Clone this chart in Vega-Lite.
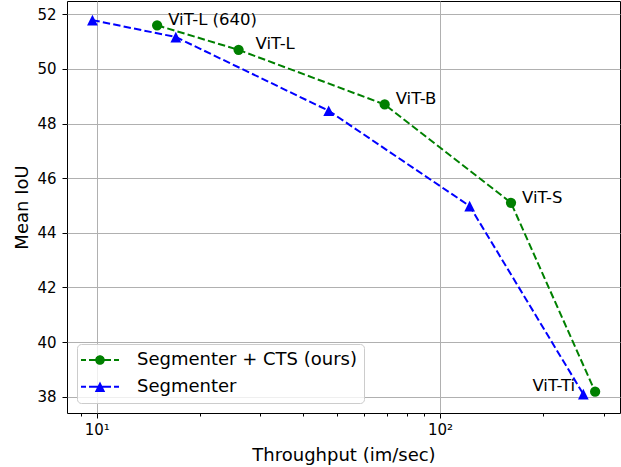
{
  "$schema": "https://vega.github.io/schema/vega-lite/v6.json",
  "width": 553,
  "height": 412,
  "autosize": {"type": "none"},
  "padding": {"left": 67, "top": 1, "right": 1, "bottom": 54},
  "background": "white",
  "config": {
    "font": "DejaVu Sans",
    "view": {"stroke": "black", "strokeWidth": 1},
    "axis": {
      "domain": false,
      "gridColor": "#b0b0b0",
      "gridWidth": 1,
      "tickColor": "black",
      "tickWidth": 1,
      "labelColor": "black",
      "titleColor": "black",
      "labelFont": "DejaVu Sans",
      "titleFont": "DejaVu Sans",
      "labelFontSize": 15,
      "titleFontSize": 18,
      "titleFontWeight": "normal",
      "labelOverlap": false,
      "labelFlush": false
    }
  },
  "data": {
    "values": [
      {"series": "Segmenter + CTS (ours)", "model": "ViT-L (640)", "throughput": 15.0, "miou": 51.6},
      {"series": "Segmenter + CTS (ours)", "model": "ViT-L", "throughput": 25.9, "miou": 50.7},
      {"series": "Segmenter + CTS (ours)", "model": "ViT-B", "throughput": 69.0, "miou": 48.7},
      {"series": "Segmenter + CTS (ours)", "model": "ViT-S", "throughput": 161.0, "miou": 45.1},
      {"series": "Segmenter + CTS (ours)", "model": "ViT-Ti", "throughput": 283.0, "miou": 38.18},
      {"series": "Segmenter", "model": "ViT-L (640)", "throughput": 9.72, "miou": 51.79},
      {"series": "Segmenter", "model": "ViT-L", "throughput": 17.0, "miou": 51.17},
      {"series": "Segmenter", "model": "ViT-B", "throughput": 47.4, "miou": 48.47},
      {"series": "Segmenter", "model": "ViT-S", "throughput": 122.0, "miou": 44.98},
      {"series": "Segmenter", "model": "ViT-Ti", "throughput": 261.5, "miou": 38.09}
    ]
  },
  "encoding": {
    "x": {
      "field": "throughput",
      "type": "quantitative",
      "scale": {"type": "log", "domain": [8.195, 334.4], "nice": false},
      "axis": {
        "title": "Throughput (im/sec)",
        "values": [9, 10, 20, 30, 40, 50, 60, 70, 80, 90, 100, 200, 300],
        "labelExpr": "datum.value == 10 ? '10¹' : (datum.value == 100 ? '10²' : '')",
        "tickSize": {"condition": {"test": "datum.value == 10 || datum.value == 100", "value": 5}, "value": 3},
        "gridOpacity": {"condition": {"test": "datum.value == 10 || datum.value == 100", "value": 1}, "value": 0},
        "labelPadding": 4,
        "titlePadding": 9
      }
    },
    "y": {
      "field": "miou",
      "type": "quantitative",
      "scale": {"domain": [37.4, 52.49], "nice": false, "zero": false},
      "axis": {
        "title": "Mean IoU",
        "values": [38, 40, 42, 44, 46, 48, 50, 52],
        "tickSize": 5,
        "labelPadding": 6,
        "titlePadding": 5
      }
    }
  },
  "layer": [
    {
      "transform": [{"filter": "false"}],
      "mark": {"type": "point", "filled": true, "opacity": 1, "strokeWidth": 0},
      "encoding": {
        "color": {
          "field": "series",
          "type": "nominal",
          "scale": {"domain": ["Segmenter + CTS (ours)", "Segmenter"], "range": ["green", "blue"]},
          "legend": {
            "title": null,
            "orient": "none",
            "legendX": 10,
            "legendY": 343,
            "fillColor": "rgba(255,255,255,0.8)",
            "strokeColor": "#cccccc",
            "cornerRadius": 4,
            "padding": 7,
            "labelFont": "DejaVu Sans",
            "labelFontSize": 18,
            "labelColor": "black",
            "labelLimit": 400,
            "labelOffset": 28,
            "symbolSize": 256,
            "symbolStrokeWidth": 0,
            "symbolOpacity": 1,
            "symbolOffset": 7,
            "rowPadding": 8.7
          }
        },
        "shape": {
          "field": "series",
          "type": "nominal",
          "scale": {
            "domain": ["Segmenter + CTS (ours)", "Segmenter"],
            "range": [
              "M-2.375,-0.125L-1.75,-0.125L-1.75,0.125L-2.375,0.125Z M-1.375,-0.125L1.375,-0.125L1.375,0.125L-1.375,0.125Z M1.75,-0.125L2.375,-0.125L2.375,0.125L1.75,0.125Z M0.6,0A0.6,0.6,0,1,1,-0.6,0A0.6,0.6,0,1,1,0.6,0Z",
              "M-2.375,-0.125L-1.75,-0.125L-1.75,0.125L-2.375,0.125Z M-1.375,-0.125L1.375,-0.125L1.375,0.125L-1.375,0.125Z M1.75,-0.125L2.375,-0.125L2.375,0.125L1.75,0.125Z M0,-0.65L0.65,0.65L-0.65,0.65Z"
            ]
          },
          "legend": {
            "title": null,
            "orient": "none",
            "legendX": 10,
            "legendY": 343,
            "fillColor": "rgba(255,255,255,0.8)",
            "strokeColor": "#cccccc",
            "cornerRadius": 4,
            "padding": 7,
            "labelFont": "DejaVu Sans",
            "labelFontSize": 18,
            "labelColor": "black",
            "labelLimit": 400,
            "labelOffset": 28,
            "symbolSize": 256,
            "symbolStrokeWidth": 0,
            "symbolOpacity": 1,
            "symbolOffset": 7,
            "rowPadding": 8.7
          }
        }
      }
    },
    {
      "mark": {"type": "line", "strokeWidth": 2, "strokeDash": [7.4, 3.2]},
      "encoding": {
        "color": {"field": "series", "type": "nominal", "legend": null}
      }
    },
    {
      "transform": [{"filter": "datum.series === 'Segmenter + CTS (ours)'"}],
      "mark": {"type": "point", "shape": "circle", "filled": true, "opacity": 1, "size": 105, "strokeWidth": 0},
      "encoding": {
        "color": {"field": "series", "type": "nominal", "legend": null}
      }
    },
    {
      "transform": [{"filter": "datum.series === 'Segmenter'"}],
      "mark": {"type": "point", "shape": "M0,-1L1,1L-1,1Z", "filled": true, "opacity": 1, "size": 115, "strokeWidth": 0},
      "encoding": {
        "color": {"field": "series", "type": "nominal", "legend": null}
      }
    },
    {
      "transform": [{"filter": "datum.series === 'Segmenter + CTS (ours)' && (datum.model === 'ViT-L (640)' || datum.model === 'ViT-B' || datum.model === 'ViT-S')"}],
      "mark": {"type": "text", "align": "left", "baseline": "middle", "dx": 11, "dy": -5, "fontSize": 16.5, "color": "black"},
      "encoding": {"text": {"field": "model"}}
    },
    {
      "transform": [{"filter": "datum.series === 'Segmenter + CTS (ours)' && datum.model === 'ViT-L'"}],
      "mark": {"type": "text", "align": "left", "baseline": "middle", "dx": 17, "dy": -6, "fontSize": 16.5, "color": "black"},
      "encoding": {"text": {"field": "model"}}
    },
    {
      "transform": [{"filter": "datum.series === 'Segmenter + CTS (ours)' && datum.model === 'ViT-Ti'"}],
      "mark": {"type": "text", "align": "right", "baseline": "middle", "dx": -20, "dy": -6, "fontSize": 16.5, "color": "black"},
      "encoding": {"text": {"field": "model"}}
    }
  ]
}
